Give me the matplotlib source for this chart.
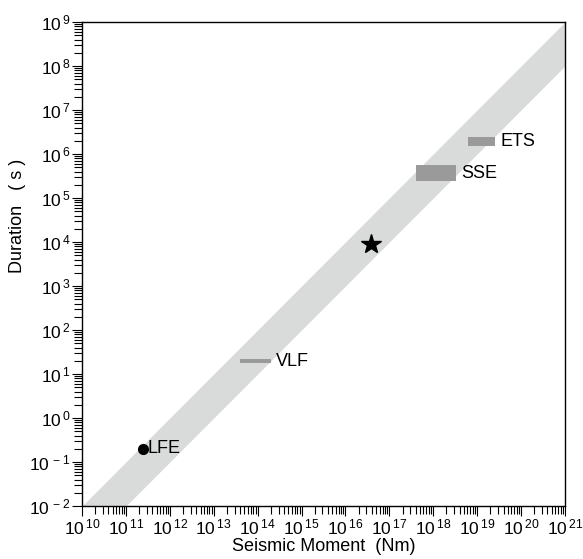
import matplotlib.pyplot as plt
import matplotlib.ticker as mticker
from matplotlib.patches import Rectangle
import numpy as np

plt.rcParams['font.family'] = ['Liberation Sans', 'DejaVu Sans']
plt.rcParams['mathtext.fontset'] = 'custom'
plt.rcParams['mathtext.rm'] = 'Liberation Sans'

# scaling band: duration = moment * coef
band_moment = [1e10, 1e21]
band_low_coef = 1e-13
band_high_coef = 1e-12

# event classes drawn as boxes (moment range, duration range)
box_names = ['VLF', 'SSE', 'ETS']
box_m0 = [4.0e13, 4.0e17, 6.2e18]
box_m1 = [2.0e14, 3.3e18, 2.6e19]
box_t0 = [17.5, 2.4e5, 1.5e6]
box_t1 = [22.0, 5.6e5, 2.4e6]

lfe_moment = 2.5e11
lfe_duration = 0.2
star_moment = 3.8e16
star_duration = 9.0e3

fig = plt.figure(figsize=(5.83, 5.59), dpi=100)
ax = fig.add_axes([0.1407, 0.0948, 0.8283, 0.8658])
ax.set_xscale('log')
ax.set_yscale('log')
ax.set_xlim(1e10, 1e21)
ax.set_ylim(1e-2, 1e9)

bm = np.array(band_moment)
ax.fill_between(bm, bm * band_low_coef, bm * band_high_coef, color='#d9dada', lw=0, zorder=1)

for name, m0, m1, t0, t1 in zip(box_names, box_m0, box_m1, box_t0, box_t1):
    ax.add_patch(Rectangle((m0, t0), m1 - m0, t1 - t0, facecolor='#9a9a9a', edgecolor='none', zorder=2))
    ax.annotate(name, xy=(m1, np.sqrt(t0 * t1)), xytext=(4, 0), textcoords='offset points',
                va='center', ha='left', fontsize=13)

ax.plot([lfe_moment], [lfe_duration], 'o', color='black', ms=7, zorder=3)
ax.annotate('LFE', xy=(lfe_moment, lfe_duration), xytext=(3, 0), textcoords='offset points',
            va='center', ha='left', fontsize=13)
ax.plot([star_moment], [star_duration], '*', color='black', ms=15, mec='black', zorder=3)


def pow_fmt(v, pos):
    e = int(round(np.log10(v)))
    return r'$\mathregular{10^{\,%d}}$' % e


ax.xaxis.set_major_locator(mticker.LogLocator(base=10, numticks=20))
ax.yaxis.set_major_locator(mticker.LogLocator(base=10, numticks=20))
ax.xaxis.set_minor_locator(mticker.LogLocator(base=10, subs=np.arange(2, 10), numticks=20))
ax.yaxis.set_minor_locator(mticker.LogLocator(base=10, subs=np.arange(2, 10), numticks=20))
ax.xaxis.set_major_formatter(mticker.FuncFormatter(pow_fmt))
ax.yaxis.set_major_formatter(mticker.FuncFormatter(pow_fmt))
ax.xaxis.set_minor_formatter(mticker.NullFormatter())
ax.yaxis.set_minor_formatter(mticker.NullFormatter())
ax.tick_params(which='major', length=7, width=0.8, labelsize=12.5, pad=1, direction='out')
ax.tick_params(which='minor', length=5.5, width=0.8, direction='out')
for s in ax.spines.values():
    s.set_linewidth(1.0)

ax.set_xlabel('Seismic Moment  (Nm)', fontsize=13, labelpad=1)
ax.set_ylabel('Duration   ( s )', fontsize=13)
ax.yaxis.set_label_coords(-0.116, 0.60)

plt.savefig('out.png', dpi=100)
